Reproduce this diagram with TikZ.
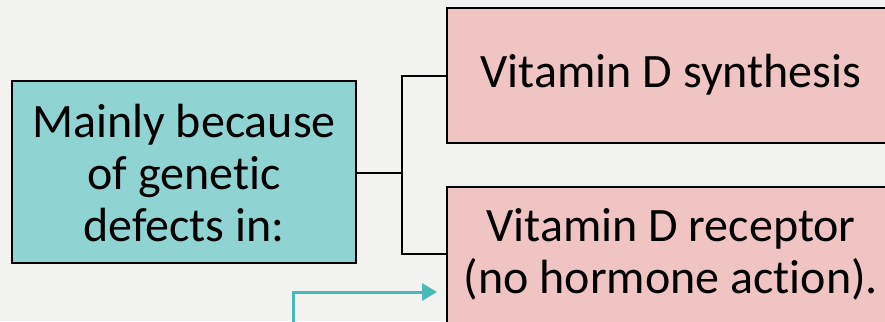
\documentclass[tikz,border=0pt]{standalone}
\usepackage{fontspec}
\setmainfont[Ligatures=NoCommon]{Carlito}
\usetikzlibrary{arrows.meta}
\definecolor{bg}{HTML}{F2F2F0}
\definecolor{tealbox}{HTML}{8FD3D3}
\definecolor{pinkbox}{HTML}{EFC4C2}
\definecolor{tealline}{HTML}{4BB8B8}
\tikzset{
  box/.style={draw=black, line width=2pt},
  conn/.style={draw=black, line width=2pt},
  lbl/.style={font=\fontsize{48}{52}\selectfont, align=center, inner sep=0pt},
}
\begin{document}
\begin{tikzpicture}[x=1pt,y=-1pt]
\fill[bg] (0,0) rectangle (885,321);
\useasboundingbox (0,0) rectangle (885,321);
\begin{scope}
\clip (0,0) rectangle (885,321);
\filldraw[box, fill=tealbox] (12,81) rectangle (356,263);
\filldraw[box, fill=pinkbox] (447,8) rectangle (900,143);
\filldraw[box, fill=pinkbox] (447,187) rectangle (900,340);
\node[lbl] (main) at (184,173) {Mainly because\\of genetic\\defects in:};
\node[lbl] (syn) at (671,75) {Vitamin D synthesis};
\node[lbl] (rec) at (671,254) {Vitamin D receptor\\(no hormone action).};
\coordinate (a) at (356,173);
\coordinate (b) at (402,173);
\coordinate (t) at (447,76);
\coordinate (u) at (447,254);
\draw[conn] (a) -- (b) |- (t);
\draw[conn] (b) |- (u);
\coordinate (s) at (293,330);
\coordinate (e) at (437,292);
\draw[tealline, line width=3pt, -{Triangle[length=15pt,width=17pt]}] (s) |- (e);
\end{scope}
\end{tikzpicture}
\end{document}
